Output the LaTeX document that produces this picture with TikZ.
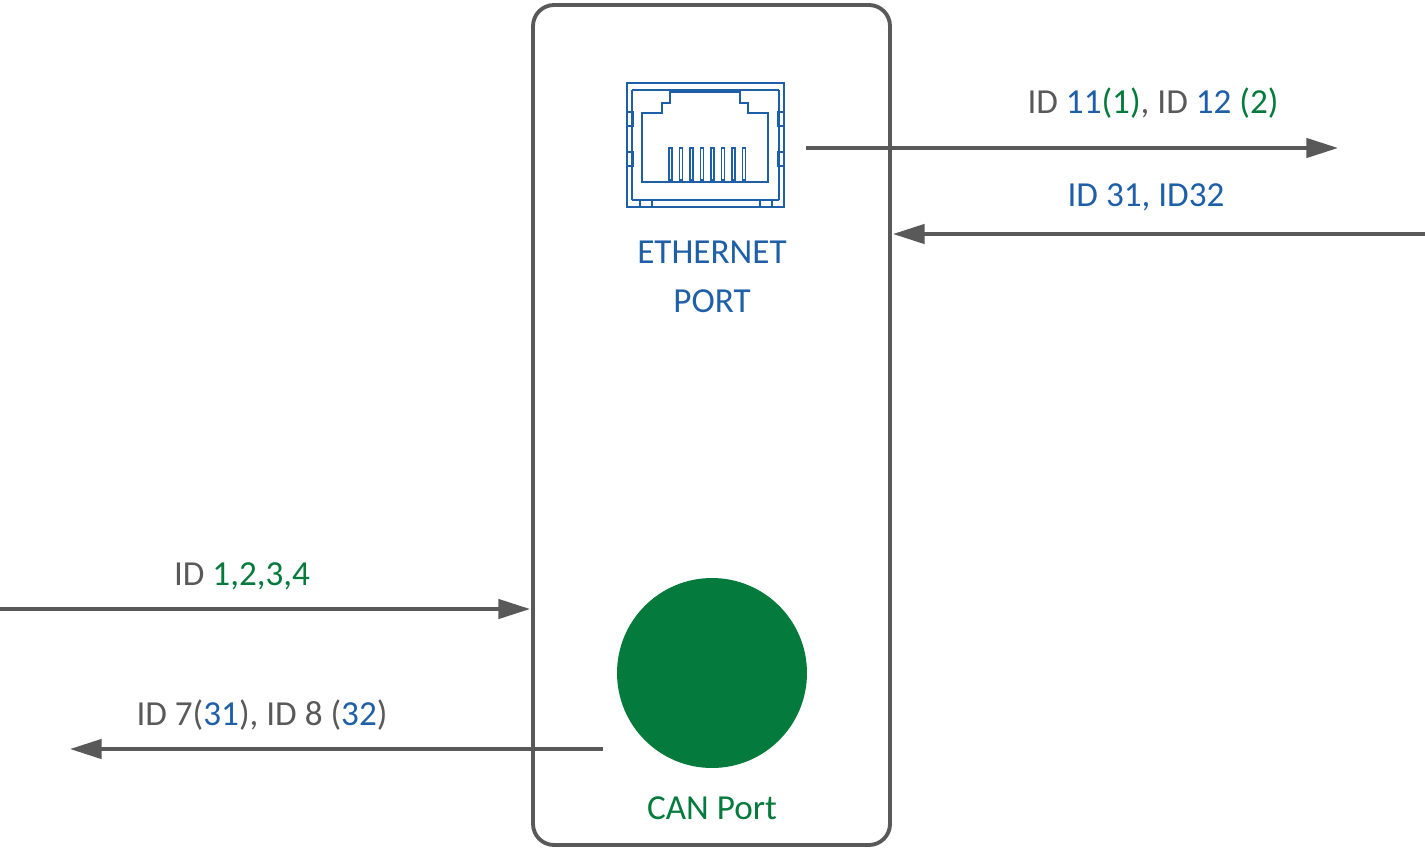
\documentclass[tikz,border=0pt]{standalone}
\usepackage{fontspec}
\setmainfont{Carlito}
\usetikzlibrary{arrows.meta,positioning}
\definecolor{lineGray}{HTML}{595959}
\definecolor{portBlue}{HTML}{1F5FA8}
\definecolor{portGreen}{HTML}{047A3C}
\newcommand{\idb}[1]{\textcolor{portBlue}{#1}}
\newcommand{\idg}[1]{\textcolor{portGreen}{#1}}
\begin{document}
\begin{tikzpicture}[x=0.02cm, y=-0.02cm,
  arrow/.style={-{Triangle[length=18pt,width=11pt]}, line width=2pt, lineGray},
  label/.style={font=\fontsize{20}{24}\selectfont, text=lineGray, inner sep=0pt},
  icon/.style={portBlue, line width=1.3pt}
]
\useasboundingbox (0,0) rectangle (1425,852);

% device housing
\draw[lineGray, line width=2.2pt, rounded corners=12pt] (533,5) rectangle (890,845);

% ethernet jack
\draw[icon] (627,83) rectangle (784,207);
\draw[icon, line width=0.8pt] (632,90) -- (779,90) (632,90) -- (632,200) (779,90) -- (779,200) (632,200) -- (779,200);
\draw[icon] (642,182) -- (642,113) -- (662,113) -- (662,103) -- (670,103) -- (670,92)
  -- (740,92) -- (740,103) -- (748,103) -- (748,113) -- (768,113) -- (768,182) -- cycle;
\foreach \k in {0,...,7}
  \draw[icon, line width=0.9pt] ({669+10.5*\k},148) rectangle ({672+10.5*\k},180);
\foreach \yy in {112,152}{
  \draw[icon, line width=0.9pt] (627,\yy) rectangle (633,\yy+14);
  \draw[icon, line width=0.9pt] (778,\yy) rectangle (784,\yy+14);
}
\draw[icon, line width=0.9pt] (640,200) rectangle (652,207) (760,200) rectangle (772,207);
\node[label, text=portBlue, align=center] (eth) at (712,277) {ETHERNET\\[4pt]PORT};
\coordinate (ethOut) at (806,148);

% CAN port
\node[circle, fill=portGreen, minimum size=190\pgflinewidth, inner sep=0pt, minimum size=3.8cm] (can) at (712,673) {};
\node[label, text=portGreen] (canLbl) at (712,808) {CAN Port};
\coordinate (canOut) at (603,749);

% messages
\coordinate (ethEnd) at (1338,148);
\coordinate (ethSrc) at (1425,234);
\coordinate (ethIn) at (893,234);
\coordinate (canSrc) at (0,609);
\coordinate (canIn) at (530,609);
\coordinate (canEnd) at (70,749);

\draw[arrow] (ethOut) -- (ethEnd);
\draw[arrow] (ethSrc) -- (ethIn);
\draw[arrow] (canSrc) -- (canIn);
\draw[arrow] (canOut) -- (canEnd);

\node[label] (m1) at (1153,103) {ID \idb{11}\idg{(1)}, ID \idb{12} \idg{(2)}};
\node[label, text=portBlue] (m2) at (1146,197) {ID 31, ID32};
\node[label] (m3) at (242,576) {ID \idg{1,2,3,4}};
\node[label] (m4) at (262,715) {ID 7(\idb{31}), ID 8 (\idb{32})};
\end{tikzpicture}
\end{document}
